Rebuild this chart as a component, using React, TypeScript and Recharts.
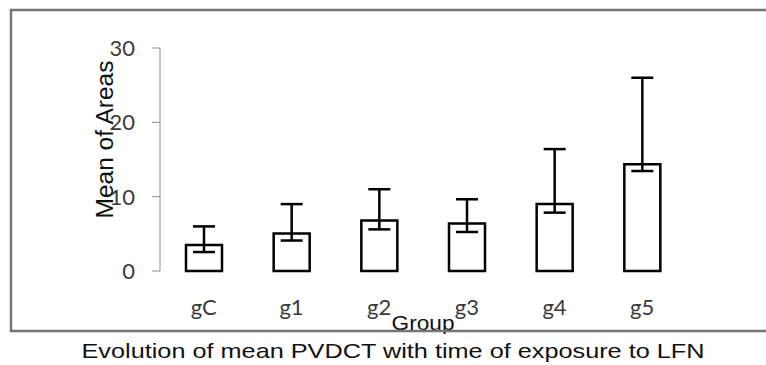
import { BarChart, Bar, XAxis, YAxis, ErrorBar, Label } from 'recharts'

const groups = ['gC', 'g1', 'g2', 'g3', 'g4', 'g5']
const means = [3.5, 5.05, 6.8, 6.4, 9.0, 14.35]
const errLow = [0.95, 0.95, 1.2, 1.15, 1.15, 0.9]
const errHigh = [2.5, 3.95, 4.2, 3.25, 7.4, 11.65]
const yTicks = [0, 10, 20, 30]
const bandEdges = [0, 1, 2, 3, 4, 5, 6]

const data = groups.map((g, i) => ({
  group: g,
  mean: means[i],
  err: [errLow[i], errHigh[i]],
  pos: i + 0.5,
}))

const axisGrey = '#8c8c8c'

const XTick = ({ x, y, payload }: any) => (
  <text x={x} y={y + 19} textAnchor="middle" fontFamily="Lato" fontSize={22} fill="#3a3a3a">
    {payload.value}
  </text>
)

const YTick = ({ x, y, payload }: any) => (
  <text x={x} y={y + 8} textAnchor="end" fontFamily="Lato" fontSize={22} fill="#3a3a3a">
    {payload.value}
  </text>
)

export default function App() {
  return (
    <div style={{ position: 'absolute', left: 0, top: 0, width: 766, height: 365 }}>
      <BarChart
        width={766}
        height={365}
        data={data}
        margin={{ top: 48, right: 80, left: 0, bottom: 0 }}
      >
        <XAxis
          xAxisId="edges"
          type="number"
          dataKey="pos"
          domain={[0, 6]}
          ticks={bandEdges}
          tick={false}
          tickSize={10}
          height={0}
          stroke={axisGrey}
          axisLine={{ stroke: axisGrey }}
          tickLine={{ stroke: axisGrey }}
        />
        <XAxis
          xAxisId="cat"
          dataKey="group"
          height={94}
          axisLine={false}
          tickLine={false}
          tickSize={0}
          tickMargin={25}
          tick={<XTick />}
          interval={0}
        >
          <Label
            content={({ viewBox }: any) => (
              <text
                x={viewBox.x + viewBox.width / 2}
                y={viewBox.y + 59}
                textAnchor="middle"
                fontFamily="Liberation Sans, Arial"
                fontSize={20}
                fill="#111"
                textLength={63}
                lengthAdjust="spacingAndGlyphs"
              >
                Group
              </text>
            )}
          />
        </XAxis>
        <YAxis
          width={160}
          domain={[0, 30]}
          ticks={yTicks}
          tickSize={8}
          tickMargin={17}
          tick={<YTick />}
          axisLine={{ stroke: axisGrey }}
          tickLine={{ stroke: axisGrey }}
        >
          <Label
            content={({ viewBox }: any) => {
              const cx = viewBox.x + 113
              const cy = viewBox.y + viewBox.height / 2 - 20
              return (
                <text
                  x={cx}
                  y={cy}
                  transform={`rotate(-90 ${cx} ${cy})`}
                  textAnchor="middle"
                  fontFamily="Liberation Sans, Arial"
                  fontSize={23}
                  fill="#111"
                  textLength={158}
                  lengthAdjust="spacingAndGlyphs"
                >
                  Mean of Areas
                </text>
              )
            }}
          />
        </YAxis>
        <Bar
          xAxisId="cat"
          dataKey="mean"
          fill="#fff"
          stroke="#000"
          strokeWidth={2.5}
          barSize={36}
          isAnimationActive={false}
        >
          <ErrorBar dataKey="err" width={11} strokeWidth={2.5} stroke="#000" direction="y" />
        </Bar>
      </BarChart>
      <svg
        width={766}
        height={365}
        style={{ position: 'absolute', left: 0, top: 0, pointerEvents: 'none' }}
      >
        <path d="M780 331 H11 V10 H780" fill="none" stroke="#757575" strokeWidth={2.5} />
        <text
          x={393}
          y={358}
          textAnchor="middle"
          fontFamily="Liberation Sans, Arial"
          fontSize={21}
          fill="#111"
          textLength={623}
          lengthAdjust="spacingAndGlyphs"
        >
          Evolution of mean PVDCT with time of exposure to LFN
        </text>
      </svg>
    </div>
  )
}
